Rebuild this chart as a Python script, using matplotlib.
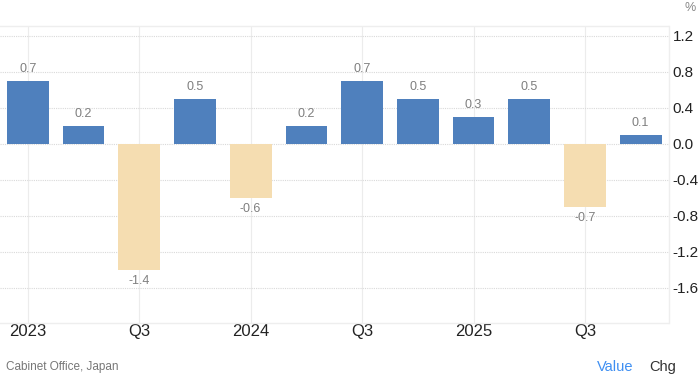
import matplotlib.pyplot as plt

quarters = ["2023 Q1", "2023 Q2", "2023 Q3", "2023 Q4", "2024 Q1", "2024 Q2",
            "2024 Q3", "2024 Q4", "2025 Q1", "2025 Q2", "2025 Q3", "2025 Q4"]
values = [0.7, 0.2, -1.4, 0.5, -0.6, 0.2, 0.7, 0.5, 0.3, 0.5, -0.7, 0.1]
tick_labels = ["2023", "Q3", "2024", "Q3", "2025", "Q3"]
yticks = [1.2, 0.8, 0.4, 0.0, -0.4, -0.8, -1.2, -1.6]

plt.rcParams['font.family'] = ['Liberation Sans', 'DejaVu Sans']

fig = plt.figure(figsize=(7.0, 3.76), dpi=100)
ax = fig.add_axes([0.0, 0.141, 0.955, 0.790])

x = list(range(len(values)))
colors = ["#4f80bd" if v >= 0 else "#f5ddb1" for v in values]
ax.bar(x, values, width=0.75, color=colors, zorder=3)

for xi, v in zip(x, values):
    if v >= 0:
        ax.annotate(f"{v:.1f}", (xi, v), xytext=(0, 4), textcoords="offset points",
                    ha="center", va="bottom", fontsize=9, color="#7f7f7f")
    else:
        ax.annotate(f"{v:.1f}", (xi, v), xytext=(0, -4), textcoords="offset points",
                    ha="center", va="top", fontsize=9, color="#7f7f7f")

ax.set_xlim(-0.5, 11.5)
ax.set_ylim(-1.99, 1.31)
ax.set_xticks(x[::2])
ax.set_xticklabels(tick_labels)
ax.set_yticks(yticks)
ax.set_yticklabels([f"{t:.1f}" for t in yticks])
ax.yaxis.tick_right()
ax.tick_params(axis="both", length=0, labelsize=11, colors="#222222")
ax.tick_params(axis="x", labelsize=12, pad=1)
ax.tick_params(axis="y", pad=3)

ax.grid(axis="y", linestyle=(0, (1, 1)), color="#d9d9d9", linewidth=0.8, zorder=0)
ax.grid(axis="x", linestyle="-", color="#ececec", linewidth=0.8, zorder=0)

ax.spines["left"].set_visible(False)
for side in ["top", "right", "bottom"]:
    ax.spines[side].set_color("#eeeeee")
    ax.spines[side].set_linewidth(1.0)

fig.text(0.986, 0.995, "%", ha="center", va="top", fontsize=9, color="#888888")
fig.text(0.008, 0.008, "Cabinet Office, Japan", ha="left", va="bottom", fontsize=8.5, color="#777777")
fig.text(0.853, 0.005, "Value", ha="left", va="bottom", fontsize=10.5, color="#3f8ff2")
fig.text(0.928, 0.005, "Chg", ha="left", va="bottom", fontsize=10.5, color="#333333")

fig.savefig("out.png", dpi=100)
